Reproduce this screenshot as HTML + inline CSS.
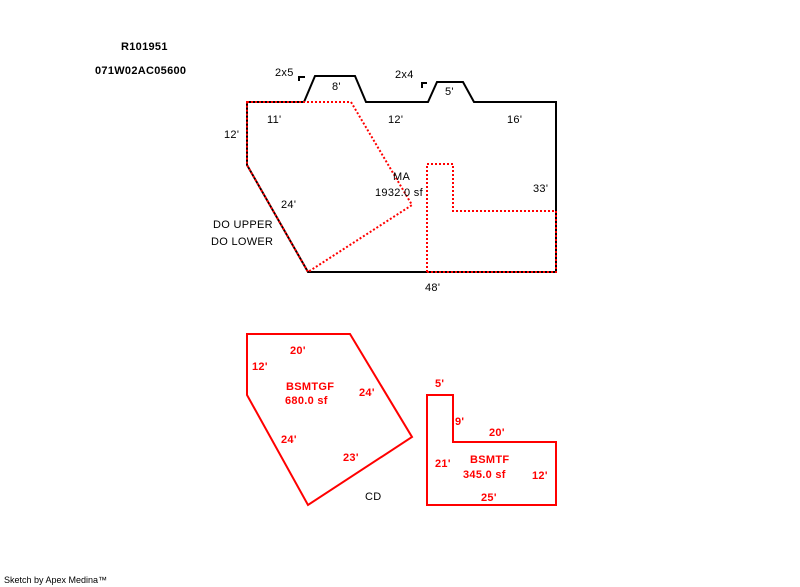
<!DOCTYPE html>
<html><head><style>
html,body{margin:0;padding:0;background:#fff;}
svg{display:block;}
text{font-family:"Liberation Sans",sans-serif;font-size:11px;letter-spacing:0.3px;}
.b{font-weight:bold;}
.r{fill:#f00;font-weight:bold;}
</style></head><body>
<svg width="800" height="587" viewBox="0 0 800 587">
<text x="121" y="50" class="b">R101951</text>
<text x="95" y="74" class="b">071W02AC05600</text>
<polygon points="247,102 304,102 315,76 355,76 366,102 428,102 437,82 463,82 474,102 556,102 556,272 308,272 247,165" fill="none" stroke="#000" stroke-width="2"/>
<polyline points="299,81 299,77 305,77" fill="none" stroke="#000" stroke-width="2"/>
<polyline points="422,88 422,83 427,83" fill="none" stroke="#000" stroke-width="2"/>
<g fill="none" stroke="#f00" stroke-width="2" stroke-dasharray="2,2">
<polygon points="247,102 351,102 412,205 308,272 247,165"/>
<polyline points="427,272 427,164 453,164 453,211 556,211 556,272 427,272"/>
</g>
<text x="275" y="76">2x5</text>
<text x="332" y="90">8'</text>
<text x="395" y="78">2x4</text>
<text x="445" y="95">5'</text>
<text x="267" y="123">11'</text>
<text x="388" y="123">12'</text>
<text x="507" y="123">16'</text>
<text x="224" y="138">12'</text>
<text x="393" y="180">MA</text>
<text x="375" y="196">1932.0 sf</text>
<text x="533" y="192">33'</text>
<text x="281" y="208">24'</text>
<text x="213" y="228">DO UPPER</text>
<text x="211" y="245">DO LOWER</text>
<text x="425" y="291">48'</text>
<polygon points="247,334 350,334 412,437 308,505 247,395" fill="none" stroke="#f00" stroke-width="2"/>
<polygon points="427,395 453,395 453,442 556,442 556,505 427,505" fill="none" stroke="#f00" stroke-width="2"/>
<text x="290" y="354" class="r">20'</text>
<text x="252" y="370" class="r">12'</text>
<text x="286" y="390" class="r">BSMTGF</text>
<text x="285" y="404" class="r">680.0 sf</text>
<text x="359" y="396" class="r">24'</text>
<text x="281" y="443" class="r">24'</text>
<text x="343" y="461" class="r">23'</text>
<text x="365" y="500">CD</text>
<text x="435" y="387" class="r">5'</text>
<text x="455" y="425" class="r">9'</text>
<text x="489" y="436" class="r">20'</text>
<text x="435" y="467" class="r">21'</text>
<text x="470" y="463" class="r">BSMTF</text>
<text x="463" y="478" class="r">345.0 sf</text>
<text x="532" y="479" class="r">12'</text>
<text x="481" y="501" class="r">25'</text>
<text x="4" y="583" style="font-size:9px;letter-spacing:0">Sketch by Apex Medina™</text>
</svg>
</body></html>
